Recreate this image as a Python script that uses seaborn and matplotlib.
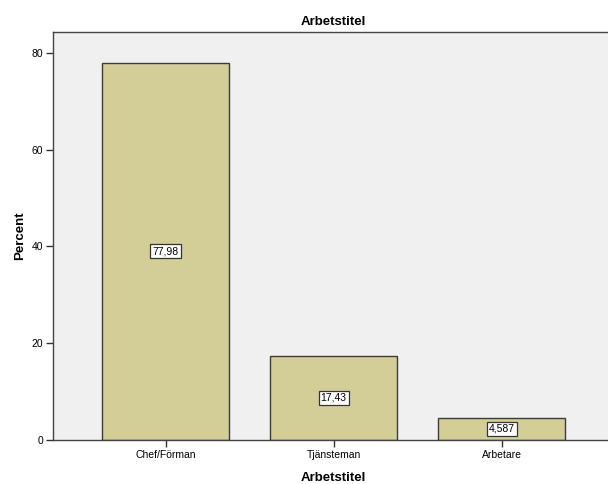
import pandas as pd
import seaborn as sns
import matplotlib.pyplot as plt

# data
categories = ['Chef/Förman', 'Tjänsteman', 'Arbetare']
percent = [77.98, 17.43, 4.587]
value_labels = ['77,98', '17,43', '4,587']

df = pd.DataFrame({'Arbetstitel': categories, 'Percent': percent})

sns.set_style('white')
plt.rcParams['font.family'] = ['Liberation Sans', 'DejaVu Sans']

fig = plt.figure(figsize=(6.08, 4.84), dpi=100)
ax = fig.add_axes([0.0872, 0.0909, 0.923, 0.843])
ax.set_facecolor('#F0F0F0')

sns.barplot(data=df, x='Arbetstitel', y='Percent', color='#D3CE98',
            saturation=1, width=0.756, edgecolor='#3C3C3C', linewidth=1.0, ax=ax)

# value labels in the middle of each bar
for i, (v, txt) in enumerate(zip(percent, value_labels)):
    ax.text(i, v / 2, txt, ha='center', va='center', fontsize=7.5, color='black',
            bbox=dict(boxstyle='square,pad=0.2', facecolor='white', edgecolor='#333333', linewidth=0.9))

ax.set_xlim(-0.67, 2.67)
ax.set_ylim(0, 84.3)
ax.set_yticks([0, 20, 40, 60, 80])

ax.set_title('Arbetstitel', fontsize=9.5, fontweight='bold', pad=5, color='black')
ax.set_xlabel('Arbetstitel', fontsize=9.5, fontweight='bold', labelpad=9, color='black')
ax.set_ylabel('Percent', fontsize=9.5, fontweight='bold', labelpad=4, color='black')

for side in ['left', 'bottom', 'top', 'right']:
    ax.spines[side].set_color('#444444')
    ax.spines[side].set_linewidth(1.0)

ax.tick_params(axis='both', direction='out', length=5, width=1, color='#333333',
               labelsize=7.5, labelcolor='black', pad=2, left=True, bottom=True)

plt.savefig('out.png', dpi=100)
